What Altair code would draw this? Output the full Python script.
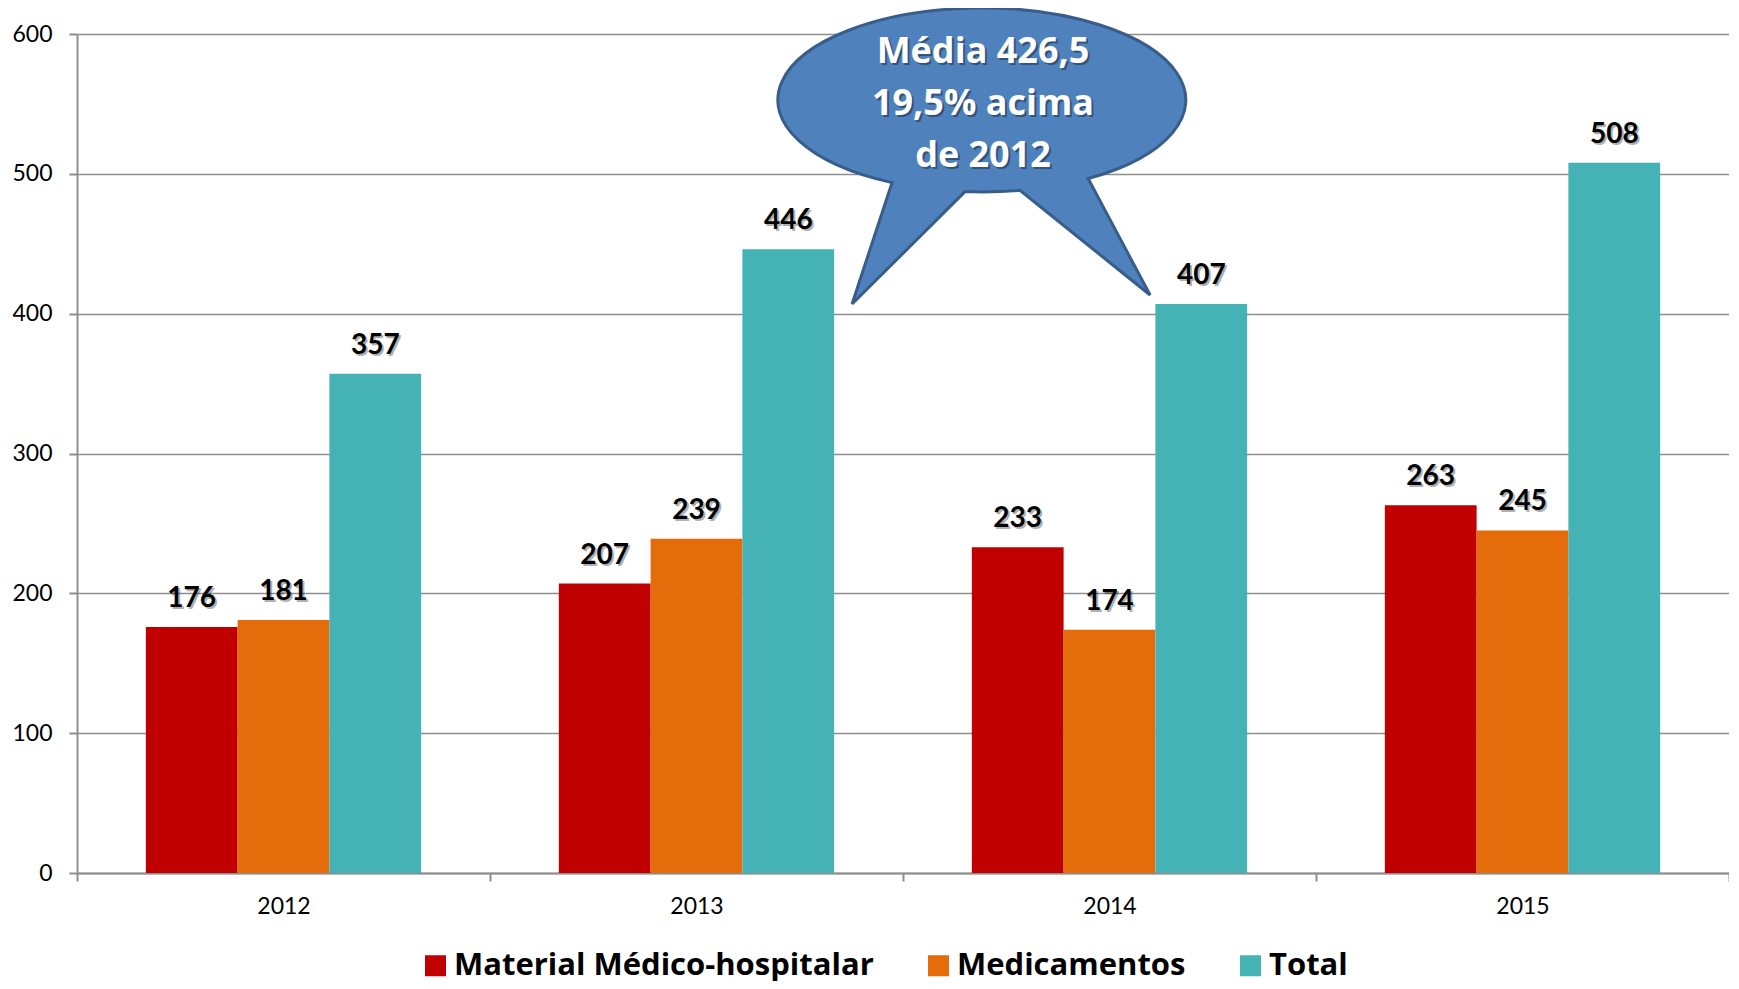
import altair as alt
import pandas as pd

years = ["2012", "2013", "2014", "2015"]
series = ["Material Médico-hospitalar", "Medicamentos", "Total"]
material = [176, 207, 233, 263]
medicamentos = [181, 239, 174, 245]
total = [357, 446, 407, 508]
colors = ["#C00000", "#E46C0A", "#45B3B6"]
callout_lines = ["Média 426,5", "19,5% acima", "de 2012"]
y_ticks = [0, 100, 200, 300, 400, 500, 600]

rows = []
for i, y in enumerate(years):
    for s, vals in zip(series, [material, medicamentos, total]):
        rows.append({"ano": y, "serie": s, "valor": vals[i]})
df = pd.DataFrame(rows)

FONT = "Lato"
BOLD_FONT = "Open Sans"

x = alt.X("ano:N", title=None,
          scale=alt.Scale(paddingInner=0, paddingOuter=0),
          axis=alt.Axis(labelAngle=0, tickBand="extent", labelFontSize=23,
                        labelFont=FONT, labelColor="#000000", labelPadding=14,
                        tickSize=8, tickColor="#8E8E8E", tickWidth=2,
                        domainColor="#8E8E8E", domainWidth=2, grid=False))
xo = alt.XOffset("serie:N", scale=alt.Scale(domain=series, paddingInner=0, paddingOuter=0.75))
y = alt.Y("valor:Q", title=None,
          scale=alt.Scale(domain=[0, 600], nice=False),
          axis=alt.Axis(values=y_ticks, labelFontSize=23, labelFont=FONT,
                        labelColor="#000000", labelPadding=17, tickSize=8,
                        tickColor="#8E8E8E", tickWidth=2, domainColor="#8E8E8E",
                        domainWidth=2, gridColor="#8E8E8E", gridWidth=1.5))

base = alt.Chart(df)

bars = base.mark_bar(stroke=None).encode(
    x=x, xOffset=xo, y=y,
    color=alt.Color("serie:N", title=None,
                    scale=alt.Scale(domain=series, range=colors),
                    legend=alt.Legend(orient="none", legendX=343, legendY=916,
                                      direction="horizontal", symbolType="square",
                                      symbolSize=441, symbolStrokeWidth=0,
                                      labelFontSize=31, labelFont=BOLD_FONT,
                                      labelFontWeight="bold", labelColor="#000000",
                                      labelLimit=1000, labelOffset=3,
                                      columnPadding=49)),
)

label_shadow = base.mark_text(font=FONT, fontSize=28, fontWeight="bold",
                              baseline="alphabetic", dy=-18, dx=2,
                              color="#000000", opacity=0.3).encode(
    x=x, xOffset=xo, y=y, text="valor:Q")
labels = base.mark_text(font=FONT, fontSize=28, fontWeight="bold",
                        baseline="alphabetic", dy=-20,
                        color="#000000").encode(
    x=x, xOffset=xo, y=y, text="valor:Q")

bubble_path = ("M -0.441 0.405 A 1 0.451 0 1 1 0.52 0.385 L 0.824 0.956 "
               "L 0.186 0.443 A 1 0.451 0 0 1 -0.083 0.449 L -0.637 1.0 Z")
ann = pd.DataFrame({"k": [0]})
bubble = alt.Chart(ann).mark_point(shape=bubble_path, size=166464, filled=True,
                                   fill="#4F81BD", stroke="#385D8A",
                                   strokeWidth=3, opacity=1, fillOpacity=1).encode(
    x=alt.value(905), y=alt.value(66))
bubble_shadow = alt.Chart(ann).mark_text(text=callout_lines, font=BOLD_FONT, fontSize=36,
                                         fontWeight="bold", align="center",
                                         baseline="alphabetic", lineHeight=52,
                                         color="#000000", opacity=0.35).encode(
    x=alt.value(908), y=alt.value(31))
bubble_text = alt.Chart(ann).mark_text(text=callout_lines, font=BOLD_FONT, fontSize=36,
                                       fontWeight="bold", align="center",
                                       baseline="alphabetic", lineHeight=52,
                                       color="#FFFFFF").encode(
    x=alt.value(906), y=alt.value(29))

chart = alt.layer(bars, label_shadow, labels, bubble, bubble_shadow, bubble_text).properties(
    width=1652, height=839,
    autosize=alt.AutoSizeParams(type="none"),
    padding={"left": 69, "top": 26, "right": 0, "bottom": 108},
    background="#FFFFFF",
).configure_view(stroke=None)

chart.save("out.html", embed_options={"renderer": "svg", "actions": False})
